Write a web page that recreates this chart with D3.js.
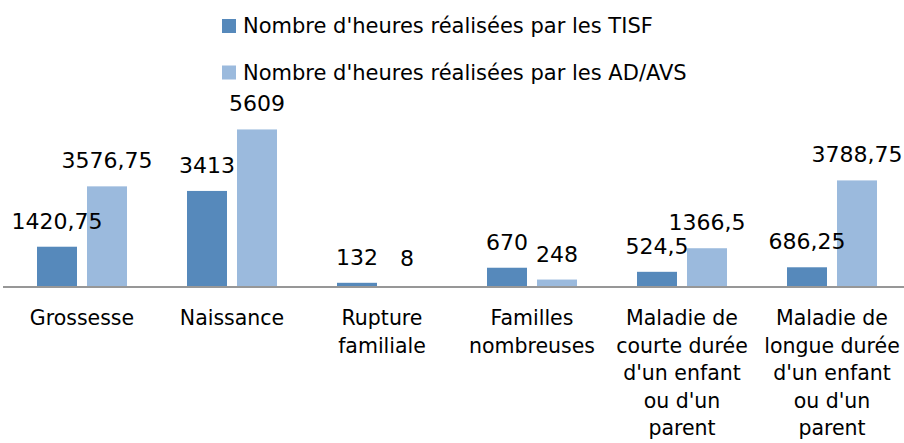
<!DOCTYPE html>
<html>
<head>
<meta charset="utf-8">
<script src="https://cdn.jsdelivr.net/npm/d3@7"></script>
<style>
  body { margin: 0; background: #fff; }
  text { font-family: "DejaVu Sans", sans-serif; fill: #000; }
</style>
</head>
<body>
<div id="chart"></div>
<script>
// data
var categories = ["Grossesse", "Naissance", "Rupture familiale", "Familles nombreuses",
  "Maladie de courte durée d'un enfant ou d'un parent",
  "Maladie de longue durée d'un enfant ou d'un parent"];
var categoryLines = [
  ["Grossesse"],
  ["Naissance"],
  ["Rupture", "familiale"],
  ["Familles", "nombreuses"],
  ["Maladie de", "courte durée", "d'un enfant", "ou d'un", "parent"],
  ["Maladie de", "longue durée", "d'un enfant", "ou d'un", "parent"]
];
var seriesNames = ["Nombre d'heures réalisées par les TISF", "Nombre d'heures réalisées par les AD/AVS"];
var tisf = [1420.75, 3413, 132, 670, 524.5, 686.25];
var avs = [3576.75, 5609, 8, 248, 1366.5, 3788.75];
var colors = ["#5689BB", "#9BBADD"];

var width = 904, height = 443;
var baseY = 286.5;

var svg = d3.select("#chart")
  .append("svg")
    .attr("width", width)
    .attr("height", height);

// scales
var x = d3.scaleBand()
  .domain(categories)
  .range([7, 907])
  .padding(0);

var x1 = d3.scaleBand()
  .domain([0, 1])
  .range([30, 120])
  .paddingInner(0.2)
  .paddingOuter(0);

var y = d3.scaleLinear()
  .domain([0, 6000])
  .range([baseY, baseY - 168]);

var rows = categories.map(function(c, i) {
  return { cat: c, values: [tisf[i], avs[i]] };
});

var groups = svg.selectAll(".grp")
  .data(rows)
  .enter()
  .append("g")
    .attr("class", "grp")
    .attr("transform", function(d) { return "translate(" + x(d.cat) + ",0)"; });

groups.selectAll("rect")
  .data(function(d) { return d.values; })
  .enter()
  .append("rect")
    .attr("x", function(d, i) { return x1(i); })
    .attr("y", function(d) { return y(d); })
    .attr("width", x1.bandwidth())
    .attr("height", function(d) { return baseY - y(d); })
    .attr("fill", function(d, i) { return colors[i]; });

// value labels
groups.selectAll(".val")
  .data(function(d) { return d.values; })
  .enter()
  .append("text")
    .attr("class", "val")
    .attr("x", function(d, i) { return x1(i) + x1.bandwidth() / 2; })
    .attr("y", function(d) { return Math.min(y(d), baseY - 3) - 18; })
    .attr("text-anchor", "middle")
    .style("font-size", "22px")
    .text(function(d) { return String(d).replace(".", ","); });

// axis line
svg.append("line")
  .attr("x1", 3).attr("x2", 904)
  .attr("y1", baseY + 0.5).attr("y2", baseY + 0.5)
  .attr("stroke", "#979797")
  .attr("stroke-width", 2);

// category labels
var catText = svg.selectAll(".cat")
  .data(categories)
  .enter()
  .append("text")
    .attr("class", "cat")
    .attr("text-anchor", "middle")
    .style("font-size", "20.5px")
    .attr("y", 325);

catText.selectAll("tspan")
  .data(function(d, i) { return categoryLines[i].map(function(l) { return { line: l, cat: d }; }); })
  .enter()
  .append("tspan")
    .attr("x", function(d) { return x(d.cat) + x.bandwidth() / 2; })
    .attr("dy", function(d, i) { return i === 0 ? 0 : 27.5; })
    .text(function(d) { return d.line; });

// legend
var legend = svg.selectAll(".leg")
  .data(seriesNames)
  .enter()
  .append("g")
    .attr("class", "leg")
    .attr("transform", function(d, i) { return "translate(222," + (19 + i * 46.5) + ")"; });

legend.append("rect")
  .attr("width", 14)
  .attr("height", 14)
  .attr("fill", function(d, i) { return colors[i]; });

legend.append("text")
  .attr("x", 21)
  .attr("y", 14)
  .style("font-size", "21px")
  .text(function(d) { return d; });
</script>
</body>
</html>
